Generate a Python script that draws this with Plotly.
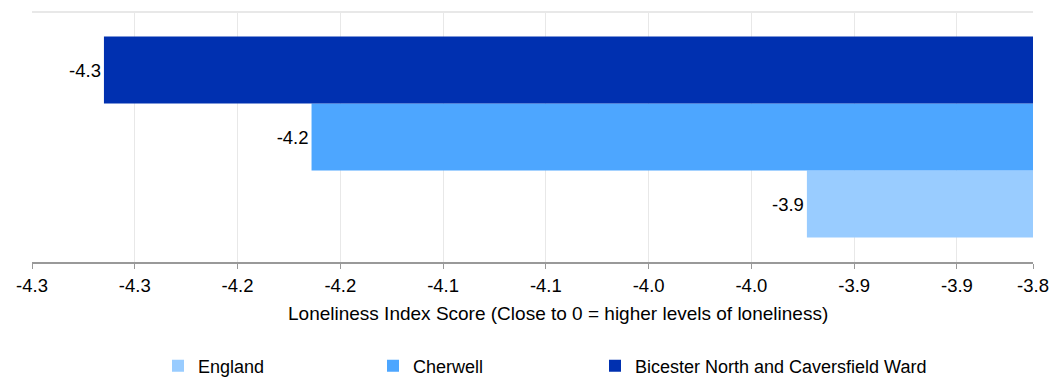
import plotly.graph_objects as go

# ---- data ----
category = ["Loneliness"]
series_names = ["England", "Cherwell", "Bicester North and Caversfield Ward"]
series_values = [-3.943, -4.184, -4.285]
series_colors = ["#99ccff", "#4da6ff", "#0030b0"]

tick_values = [-4.32, -4.27, -4.22, -4.17, -4.12, -4.07, -4.02, -3.97, -3.92, -3.87, -3.833]
tick_labels = ["-4.3", "-4.3", "-4.2", "-4.2", "-4.1", "-4.1", "-4.0", "-4.0", "-3.9", "-3.9", "-3.8"]
axis_range = [-4.32, -3.833]
x_title = "Loneliness Index Score (Close to 0 = higher levels of loneliness)"

FONT = "Liberation Sans, Arial, sans-serif"
W, H = 1061, 377
legend_ids = ["legend", "legend2", "legend3"]
legend_px = [158, 373, 595]

fig = go.Figure()
for name, val, col, lid in zip(series_names, series_values, series_colors, legend_ids):
    fig.add_trace(go.Bar(
        y=category, x=[val], name=name, orientation="h",
        marker=dict(color=col, line=dict(width=0)),
        text=[f"{val:.1f}"], textposition="outside",
        textfont=dict(family=FONT, size=18.5, color="#000000"),
        cliponaxis=True, legend=lid, showlegend=True,
    ))

legends = {}
for lid, px in zip(legend_ids, legend_px):
    legends[lid] = dict(orientation="h", xref="container", yref="container",
                        x=px / W, xanchor="left", y=(H - 366) / H, yanchor="middle",
                        font=dict(family=FONT, size=18, color="#000000"),
                        bgcolor="rgba(0,0,0,0)", itemclick=False)

fig.update_layout(
    width=W, height=H,
    margin=dict(l=32, r=28, t=12, b=115, autoexpand=False),
    paper_bgcolor="white", plot_bgcolor="white",
    barmode="group", bargap=0.196, bargroupgap=0,
    font=dict(family=FONT, size=18, color="#000000"),
    xaxis=dict(range=axis_range, tickvals=tick_values, ticktext=tick_labels,
               showgrid=True, gridcolor="#e8e8e8", gridwidth=1,
               showline=True, linecolor="#999999", linewidth=2,
               ticks="outside", ticklen=5, tickcolor="#999999", tickwidth=1,
               ticklabelstandoff=1,
               tickfont=dict(family=FONT, size=18.5, color="#000000"),
               zeroline=False, fixedrange=True, automargin=False),
    yaxis=dict(showticklabels=False, showgrid=False, zeroline=False, fixedrange=True,
               automargin=False),
    shapes=[dict(type="line", xref="paper", yref="paper", x0=0, x1=1, y0=1, y1=1,
                 line=dict(color="#e8e8e8", width=2), layer="below")],
    annotations=[dict(text=x_title, xref="paper", yref="paper", x=0.525, y=0,
                      xanchor="center", yanchor="middle", yshift=-51, showarrow=False,
                      font=dict(family=FONT, size=19, color="#000000"))],
    **legends,
)

fig.write_html("out.html", config={"displayModeBar": False},
               post_script="document.body.style.margin='0';document.body.style.overflow='hidden';")
